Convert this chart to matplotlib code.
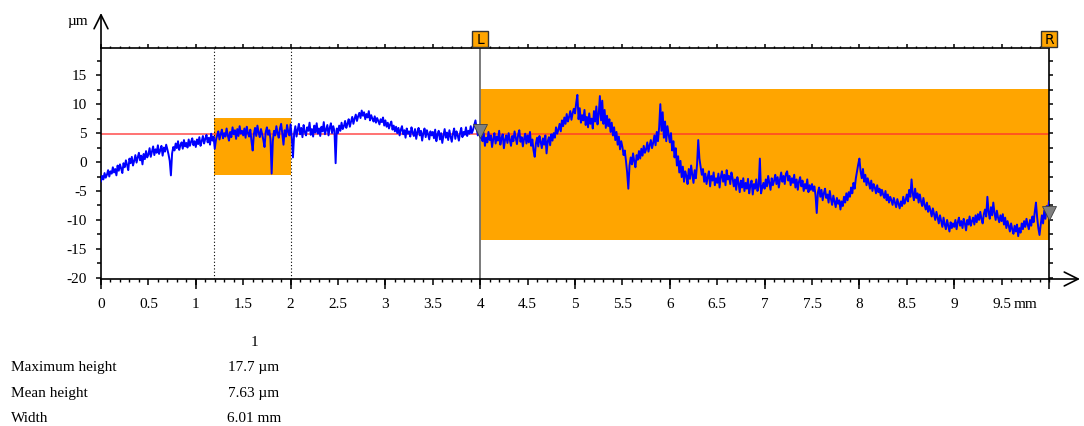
import numpy as np
import matplotlib
matplotlib.use("Agg")
import matplotlib.pyplot as plt
from matplotlib.patches import Rectangle
from matplotlib.ticker import MultipleLocator, FixedLocator

# -----------------------------
# DATA
# -----------------------------
STEP = 0.0125  # mm between profile samples
profile_um = [
    # 0.0 - 0.4875
    -3.3, -2.4, -3.0, -1.9, -2.7, -2.2, -1.4, -2.5, -1.6, -2.0, -0.9, -1.8, -1.2, -2.3, -0.6, -1.5, -0.4, -1.1, -1.9, -0.2,
    -0.9, 0.3, -0.5, -1.4, 0.6, -0.2, 0.9, -0.6, 0.2, 1.2, -0.1, 0.8, 1.6, 0.3, 1.1, -0.4, 1.4, 0.5, 1.9, 0.8,
    # 0.5 - 0.9875
    1.3, 2.4, 0.9, 1.8, 2.7, 1.2, 2.2, 1.6, 2.9, 1.4, 2.0, 2.8, 1.1, 2.5, 1.8, 3.0, 2.2, 1.3, 0.2, -2.3,
    1.5, 2.6, 2.0, 3.2, 2.4, 3.6, 2.1, 2.9, 3.4, 2.3, 3.8, 2.7, 3.3, 2.5, 3.9, 2.8, 3.5, 4.1, 2.9, 3.6,
    # 1.0 - 1.4875
    2.6, 3.9, 3.1, 4.3, 2.8, 3.6, 4.5, 3.2, 4.0, 4.7, 3.4, 4.2, 3.0, 4.9, 3.7, 4.4, 2.3, 3.8, 4.6, 5.3,
    3.9, 4.8, 5.6, 4.1, 5.0, 4.4, 5.8, 4.6, 3.7, 5.2, 4.3, 6.0, 4.8, 5.5, 4.0, 5.7, 4.5, 6.2, 4.9, 5.4,
    # 1.5 - 1.9875
    4.6, 5.8, 4.2, 6.1, 5.0, 4.4, 5.6, 3.6, 2.0, 4.8, 5.9, 4.5, 6.3, 5.1, 4.3, 5.7, 4.8, 3.8, 2.6, 5.2,
    6.0, 4.7, 5.5, 4.0, -2.0, 3.6, 5.4, 4.6, 6.2, 5.0, 4.2, 5.8, 6.6, 4.9, 3.0, 5.5, 4.4, 6.4, 5.2, 4.6,
    # 2.0 - 2.4875
    6.5, 4.2, 0.8, 5.0, 6.2, 4.4, 5.6, 6.6, 4.8, 5.9, 4.3, 6.4, 5.2, 4.6, 6.0, 5.4, 6.8, 4.7, 5.7, 4.4,
    6.3, 5.1, 6.7, 4.9, 5.8, 4.5, 6.1, 5.3, 6.9, 4.8, 5.6, 6.4, 4.6, 5.9, 6.7, 5.0, 6.2, 5.4, -0.2, 5.8,
    # 2.5 - 2.9875
    5.0, 6.3, 5.4, 6.8, 5.7, 6.2, 7.1, 5.9, 6.6, 7.4, 6.1, 7.0, 7.8, 6.6, 7.5, 8.2, 7.1, 7.9, 8.5, 7.6,
    8.9, 8.0, 8.6, 7.4, 8.3, 7.7, 8.8, 7.2, 8.1, 7.5, 7.0, 7.9, 6.8, 7.6, 7.1, 6.5, 7.4, 6.9, 7.7, 6.3,
    # 3.0 - 3.4875
    7.2, 6.1, 6.8, 5.8, 6.5, 7.0, 5.6, 6.3, 5.3, 6.1, 5.0, 5.9, 4.6, 5.6, 6.2, 4.8, 5.5, 4.2, 5.8, 4.9,
    5.3, 4.4, 6.0, 5.1, 4.5, 5.7, 4.0, 5.2, 5.9, 4.6, 5.4, 3.7, 5.0, 5.8, 4.3, 5.5, 4.8, 3.9, 5.3, 4.6,
    # 3.5 - 3.9875
    5.2, 4.1, 5.6, 3.6, 4.8, 5.4, 3.9, 5.0, 3.3, 4.6, 5.7, 4.2, 5.1, 3.8, 5.5, 4.4, 3.5, 4.9, 5.8, 4.0,
    5.3, 4.6, 3.7, 5.0, 5.9, 4.3, 5.2, 4.7, 6.0, 4.5, 5.4, 4.9, 6.2, 5.0, 5.6, 6.4, 7.2, 5.8, 4.6, 5.5,
    # 4.0 - 4.4875
    5.9, 4.4, 3.6, 5.0, 2.8, 4.2, 3.4, 5.2, 3.8, 4.6, 2.6, 4.0, 5.0, 3.2, 4.4, 3.7, 5.4, 3.0, 4.1, 4.8,
    2.4, 3.9, 4.6, 3.3, 5.0, 3.8, 2.8, 4.5, 3.6, 5.3, 4.2, 3.1, 4.7, 5.5, 3.5, 4.3, 2.7, 4.0, 4.9, 3.2,
    # 4.5 - 4.9875
    4.6, 3.4, 5.2, 2.8, 3.9, 2.0, 0.9, 3.2, 4.2, 2.7, 4.5, 3.5, 2.4, 4.1, 3.0, 4.6, 1.5, 3.6, 4.3, 2.9,
    4.8, 3.7, 5.0, 4.2, 6.0, 4.9, 5.6, 6.6, 5.3, 7.2, 6.2, 7.7, 6.6, 8.3, 7.0, 7.8, 8.8, 7.3, 8.4, 9.2,
    # 5.0 - 5.4875
    8.4, 10.2, 11.6, 7.4, 9.3, 6.8, 8.1, 7.2, 9.0, 6.4, 7.8, 6.0, 8.4, 6.6, 7.5, 5.8, 8.8, 7.0, 9.6, 6.5,
    8.2, 11.4, 7.2, 10.6, 6.6, 9.0, 5.9, 8.0, 6.2, 7.4, 5.2, 6.8, 4.6, 6.0, 3.8, 5.2, 3.0, 4.4, 2.2, 3.6,
    # 5.5 - 5.9875
    2.6, 1.2, 2.0, 0.2, -1.8, -4.6, -0.6, 0.8, -0.4, 1.5, 0.1, -0.9, 1.2, 0.4, 1.9, 0.6, 2.3, 1.1, 2.8, 1.6,
    2.2, 3.4, 1.8, 2.9, 3.8, 2.4, 3.3, 4.6, 2.9, 5.2, 3.6, 6.0, 10.0, 5.4, 8.6, 4.2, 7.0, 3.6, 6.2, 4.8,
    # 6.0 - 6.4875
    3.4, 5.0, 2.0, 3.6, 0.8, 2.4, -0.6, 1.0, -1.8, 0.2, -2.6, -0.8, -3.4, -1.6, -2.4, -3.8, -1.2, -2.9, -0.6, -2.2,
    -3.6, -1.4, -2.8, -0.4, 3.8, 0.6, -0.8, -2.2, -1.2, -3.4, -2.0, -3.8, -2.6, -1.6, -4.2, -2.4, -3.2, -1.8, -4.0, -2.8,
    # 6.5 - 6.9875
    -3.6, -2.0, -4.4, -2.6, -1.6, -3.4, -2.2, -4.0, -1.4, -3.0, -2.4, -3.8, -1.8, -2.8, -4.2, -3.0, -4.8, -2.6, -3.6, -5.2,
    -3.2, -4.4, -2.8, -5.0, -3.6, -4.6, -2.9, -5.4, -4.0, -3.2, -5.6, -3.8, -4.6, -3.0, -5.0, -4.2, 0.6, -5.4, -4.4, -3.6,
    # 7.0 - 7.4875
    -4.6, -3.0, -4.2, -2.4, -3.6, -4.8, -2.8, -4.0, -3.2, -2.2, -3.8, -2.6, -4.4, -3.0, -1.8, -3.4, -2.4, -3.8, -2.0, -1.6,
    -3.2, -2.4, -4.0, -2.8, -3.6, -2.2, -4.4, -3.0, -4.8, -3.4, -2.6, -4.2, -3.2, -5.0, -3.8, -4.6, -3.0, -5.2, -4.0, -4.8,
    # 7.5 - 7.9875
    -3.8, -5.0, -4.2, -5.8, -8.8, -5.2, -4.4, -6.0, -4.8, -6.6, -5.4, -4.6, -6.2, -5.6, -7.0, -5.0, -6.4, -7.4, -5.8, -6.8,
    -7.8, -6.2, -7.2, -6.6, -8.2, -6.8, -7.6, -6.0, -7.0, -5.4, -6.6, -5.2, -6.0, -4.4, -5.4, -3.6, -4.6, -2.8, -1.6, -0.4,
    # 8.0 - 8.4875
    0.6, -1.6, -2.8, -1.2, -3.4, -2.2, -4.0, -2.8, -3.6, -4.6, -3.2, -5.0, -3.8, -4.4, -5.4, -4.0, -5.2, -4.6, -5.8, -4.8,
    -5.6, -6.2, -5.0, -6.6, -5.6, -7.0, -6.0, -6.6, -7.4, -6.2, -7.0, -7.8, -6.4, -7.2, -8.0, -6.8, -7.6, -6.0, -7.2, -6.6,
    # 8.5 - 8.9875
    -5.6, -6.8, -4.8, -6.0, -3.0, -5.4, -6.6, -4.6, -6.2, -5.4, -7.0, -5.6, -6.8, -7.6, -6.2, -7.4, -8.2, -7.0, -8.6, -7.6,
    -8.4, -9.4, -8.0, -9.0, -10.0, -8.6, -9.6, -10.6, -9.2, -10.2, -11.2, -9.6, -10.8, -11.6, -10.0, -11.0, -12.0, -10.4, -11.4, -10.6,
    # 9.0 - 9.4875
    -11.2, -10.0, -11.6, -10.4, -9.6, -11.0, -10.2, -11.4, -9.8, -10.6, -11.8, -10.0, -10.8, -9.4, -11.0, -10.2, -9.6, -10.8, -9.2, -10.4,
    -9.0, -10.0, -8.6, -9.8, -10.6, -9.0, -8.2, -9.4, -6.0, -8.6, -9.8, -7.8, -9.2, -7.0, -8.8, -10.0, -8.4, -9.6, -10.4, -9.2,
    # 9.5 - 9.9875
    -10.2, -9.0, -10.8, -9.6, -11.4, -10.2, -11.0, -12.0, -10.6, -11.6, -12.4, -11.0, -12.0, -10.8, -12.8, -11.4, -12.2, -10.6, -11.6, -10.2,
    -11.2, -9.8, -10.8, -11.6, -10.0, -11.0, -9.4, -10.4, -8.6, -7.0, -9.6, -11.4, -12.6, -10.8, -9.2, -10.6, -8.4, -9.8, -7.6, -8.6,
    # 10.0
    -6.8,
]
profile_x = np.arange(len(profile_um)) * STEP

ref_level = 4.9  # red reference line, um

# highlighted boxes (mm, um)
box_x0 = [1.19, 4.0]
box_x1 = [2.0, 10.0]
box_lo = [-2.3, -13.4]
box_hi = [7.6, 12.6]

dotted_x = [1.19, 2.0]
cursor_x = [4.0, 10.0]
cursor_y = [5.4, -8.8]
cursor_lbl = ["L", "R"]

xtick_vals = [0, 0.5, 1, 1.5, 2, 2.5, 3, 3.5, 4, 4.5, 5, 5.5, 6, 6.5, 7, 7.5, 8, 8.5, 9, 9.5]
xtick_lbls = ["0", "0.5", "1", "1.5", "2", "2.5", "3", "3.5", "4", "4.5",
              "5", "5.5", "6", "6.5", "7", "7.5", "8", "8.5", "9", "9.5"]
ytick_vals = [-20, -15, -10, -5, 0, 5, 10, 15]
ytick_lbls = ["-20", "-15", "-10", "-5", "0", "5", "10", "15"]

table_rows = ["Maximum height", "Mean height", "Width"]
table_vals = ["17.7 \u00b5m", "7.63 \u00b5m", "6.01 mm"]

ORANGE = "#ffa500"
SERIF = "Liberation Serif"
FS = 11
PX = 0.72  # points per pixel at 100 dpi

# -----------------------------
# FIGURE
# -----------------------------
W, H = 1084, 426
fig = plt.figure(figsize=(W / 100, H / 100), dpi=100)
ax = fig.add_axes([101 / W, 1 - 279 / H, 948 / W, 231 / H])
ax.set_xlim(0, 10)
ax.set_ylim(-20.2, 19.7)

for x0, x1, lo, hi in zip(box_x0, box_x1, box_lo, box_hi):
    ax.add_patch(Rectangle((x0, lo), x1 - x0, hi - lo, facecolor=ORANGE,
                           edgecolor="none", zorder=1))

ax.axhline(ref_level, color="#ff3030", lw=1.2, alpha=0.8, zorder=2)
for xv in dotted_x:
    ax.axvline(xv, color="black", lw=0.8, ls=(0, (1, 2)), zorder=2)
ax.axvline(cursor_x[0], color="#707070", lw=1.3, zorder=2)

ax.plot(profile_x, profile_um, color="#0000ff", lw=1.4, zorder=3)

ax.plot(cursor_x, cursor_y, ls="none", marker="v", markersize=10,
        markerfacecolor="#808080", markeredgecolor="#404040", markeredgewidth=0.6,
        zorder=4, clip_on=False)

# L / R cursor flags above the plot
flag_tr = ax.get_xaxis_transform()
for xv, lbl in zip(cursor_x, cursor_lbl):
    ax.plot([xv], [1.0 + 9 / 231], transform=flag_tr, marker="s", markersize=16 * PX,
            markerfacecolor=ORANGE, markeredgecolor="#333333", markeredgewidth=1.0,
            clip_on=False, zorder=5)
    ax.text(xv, 1.0 + 8.5 / 231, lbl, transform=flag_tr, ha="center", va="center",
            fontsize=10, family="DejaVu Sans", zorder=6)

# spines + ticks
for s in ax.spines.values():
    s.set_linewidth(1.2)

ax.set_yticks(ytick_vals)
ax.set_yticklabels(ytick_lbls, family=SERIF)
ax.yaxis.set_minor_locator(MultipleLocator(2.5))
ax.tick_params(axis="y", which="major", direction="out", length=5 * PX, width=1.1,
               labelsize=FS, pad=9 * PX)
ax.tick_params(axis="y", which="minor", direction="out", length=4 * PX, width=1.1)

right = ax.secondary_yaxis("right")
right.yaxis.set_major_locator(MultipleLocator(2.5))
right.tick_params(direction="out", length=3.5 * PX, width=1.1, labelright=False)
right.spines["right"].set_visible(False)

ax.xaxis.set_major_locator(FixedLocator(xtick_vals))
ax.xaxis.set_minor_locator(MultipleLocator(0.1))
ax.set_xticklabels(xtick_lbls, family=SERIF)
ax.tick_params(axis="x", which="major", direction="out", length=6 * PX, width=1.1,
               labelsize=FS, pad=13 * PX)
ax.tick_params(axis="x", which="minor", direction="out", length=3 * PX, width=1.0)

# longer ticks at whole millimetres
sec = ax.secondary_xaxis("bottom")
sec.xaxis.set_major_locator(MultipleLocator(1))
sec.tick_params(direction="out", length=10 * PX, width=1.1, labelbottom=False)
sec.spines["bottom"].set_visible(False)

top = ax.secondary_xaxis("top")
top.xaxis.set_major_locator(MultipleLocator(0.5))
top.xaxis.set_minor_locator(MultipleLocator(0.1))
top.tick_params(which="major", direction="out", length=4 * PX, width=1.1, labeltop=False)
top.tick_params(which="minor", direction="out", length=2.5 * PX, width=1.0)
top.spines["top"].set_visible(False)

# unit after the last tick label
ax.annotate("mm", xy=(9.5, 0), xycoords=ax.get_xaxis_transform(),
            xytext=(12, -19), textcoords="offset pixels", ha="left", va="top",
            fontsize=FS, family=SERIF, annotation_clip=False)

# axis arrows
arrow = dict(arrowstyle="->,head_length=1.0,head_width=0.5", color="black",
             lw=1.2, mutation_scale=10, shrinkA=0, shrinkB=0)
ax.annotate("", xy=(0, 1 + 35 / 231), xytext=(0, 1), xycoords="axes fraction",
            arrowprops=arrow, annotation_clip=False)
ax.annotate("", xy=(1 + 31 / 948, 0), xytext=(1, 0), xycoords="axes fraction",
            arrowprops=arrow, annotation_clip=False)

fig.text(78 / W, 1 - 21 / H, "\u00b5m", ha="center", va="center",
         fontsize=FS, family=SERIF)

# summary table
fig.text(254 / W, 1 - 342 / H, "1", ha="center", va="center", fontsize=FS, family=SERIF)
for i, (name, val) in enumerate(zip(table_rows, table_vals)):
    yy = 1 - (368 + 25.5 * i) / H
    fig.text(11 / W, yy, name, ha="left", va="center", fontsize=FS, family=SERIF)
    fig.text(254 / W, yy, val, ha="center", va="center", fontsize=FS, family=SERIF)

fig.savefig("out.png", dpi=100)
